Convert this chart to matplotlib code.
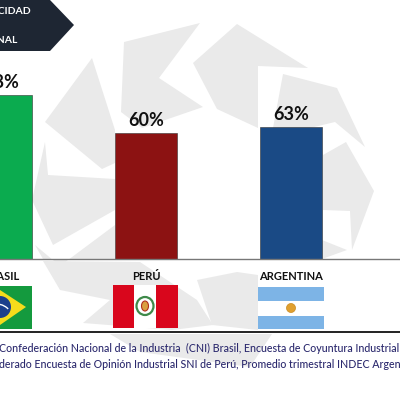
import matplotlib
matplotlib.use("Agg")
import matplotlib.pyplot as plt
from matplotlib.patches import Polygon, Rectangle, Circle, Ellipse, Arc

plt.rcParams['font.family'] = ['Lato', 'DejaVu Sans']

# datos del grafico
paises = ['BRASIL', 'PERÚ', 'ARGENTINA']
valores = [78, 60, 63]
colores = ['#0bab4f', '#8c1212', '#1a4a85']
banner_lineas = ['CAPACIDAD', 'NACIONAL']
fuente_1 = 'Confederación Nacional de la Industria  (CNI) Brasil, Encuesta de Coyuntura Industrial'
fuente_2 = 'derado Encuesta de Opinión Industrial SNI de Perú, Promedio trimestral INDEC Argentina'

# marca de agua, en pixeles de la imagen
marca_agua = [
    [(124, 42), (200, 23), (159, 78), (203, 107), (142, 128), (121, 112)],
    [(193, 63), (237, 24), (308, 68), (258, 66), (258, 128), (217, 109)],
    [(283, 74), (337, 88), (365, 147), (335, 122), (310, 128), (273, 128)],
    [(323, 155), (346, 142), (374, 191), (352, 250), (350, 211), (323, 210)],
    [(92, 58), (115, 130), (115, 163), (102, 169), (45, 122)],
    [(45, 142), (48, 175), (115, 179), (115, 210), (53, 245), (32, 200)],
    [(35, 245), (60, 266), (115, 225), (115, 259), (43, 259)],
    [(43, 261), (140, 262), (197, 300), (213, 325), (172, 330), (83, 323), (110, 300), (60, 290)],
    [(197, 280), (237, 272), (258, 275), (258, 330), (212, 325)],
    [(347, 250), (322, 259), (300, 259), (322, 240)],
    [(110, 334), (272, 334), (250, 367), (140, 352)],
]

fig = plt.figure(figsize=(4.0, 3.94), dpi=100)

# fondo en pixeles: marca de agua, banner, banderas, fuente
fondo = fig.add_axes([0, 0, 1, 1], zorder=1)
fondo.set_xlim(0, 400)
fondo.set_ylim(394, 0)
fondo.axis('off')

for forma in marca_agua:
    fondo.add_patch(Polygon(forma, closed=True, fc='#eaeaea', ec='none'))

fondo.add_patch(Polygon([(0, 0), (50, 0), (74, 25), (50, 51), (0, 51)], closed=True,
                        fc='#1e2633', ec='none', zorder=3))
fondo.text(31, 11, banner_lineas[0], color='white', fontsize=7.5, fontweight='bold',
           ha='right', va='center', zorder=4)
fondo.text(18, 40, banner_lineas[1], color='white', fontsize=7.5, fontweight='bold',
           ha='right', va='center', zorder=4)

# Brasil
fondo.add_patch(Rectangle((-33, 286), 65, 43, fc='#149a3e', ec='none', zorder=3))
fondo.add_patch(Polygon([(-26, 307), (0, 290), (26, 307), (0, 325)], closed=True,
                        fc='#f5dc1c', ec='none', zorder=4))
fondo.add_patch(Circle((0, 307), 11, fc='#1c3f8c', ec='none', zorder=5))
fondo.add_patch(Arc((-4, 316), 30, 24, theta1=240, theta2=330, color='white', lw=1, zorder=6))

# Peru
fondo.add_patch(Rectangle((112.5, 285), 65.5, 43, fc='#d9061c', ec='none', zorder=3))
fondo.add_patch(Rectangle((134, 285), 22, 43, fc='white', ec='none', zorder=4))
fondo.add_patch(Ellipse((145, 306), 17, 18, fc='none', ec='#3f8a4a', lw=1.6, zorder=5))
fondo.add_patch(Ellipse((145, 306), 7, 10, fc='#d9a040', ec='#b03020', lw=0.8, zorder=5))

# Argentina
fondo.add_patch(Rectangle((258, 287), 66, 42, fc='#7db4e6', ec='none', zorder=3))
fondo.add_patch(Rectangle((258, 301), 66, 14.5, fc='white', ec='none', zorder=4))
fondo.add_patch(Circle((291, 308), 4.5, fc='#e0a030', ec='#c98a20', lw=0.5, zorder=5))

fondo.plot([0, 400], [332, 332], color='#111111', lw=1.3, zorder=6)
fondo.text(-1, 348, fuente_1, color='#2c2a6e', fontsize=7.7, fontweight='medium',
           ha='left', va='center', zorder=6)
fondo.text(-1, 364, fuente_2, color='#2c2a6e', fontsize=7.7, fontweight='medium',
           ha='left', va='center', zorder=6)

# barras
ax = fig.add_axes([0, 135 / 394, 1, 259 / 394], zorder=2)
ax.patch.set_alpha(0)
x = list(range(len(paises)))
ax.bar(x, valores, width=0.428, color=colores, edgecolor='#333333', linewidth=0.4)
for i, v in zip(x, valores):
    ax.text(i, v + 2, f'{v}%', ha='center', va='bottom', fontsize=13, fontweight='bold',
            color='#111111')
ax.set_xlim(-1 / 145, 399 / 145)
ax.set_ylim(0, 259 / 2.1)
ax.set_yticks([])
ax.set_xticks(x)
ax.set_xticklabels(paises, fontsize=8, fontweight='bold', color='#111111')
ax.tick_params(axis='x', length=0, pad=8.5)
for lado in ['top', 'left', 'right']:
    ax.spines[lado].set_visible(False)
ax.spines['bottom'].set_color('#777777')
ax.spines['bottom'].set_linewidth(1)

fig.savefig('out.png', dpi=100, facecolor='white')
